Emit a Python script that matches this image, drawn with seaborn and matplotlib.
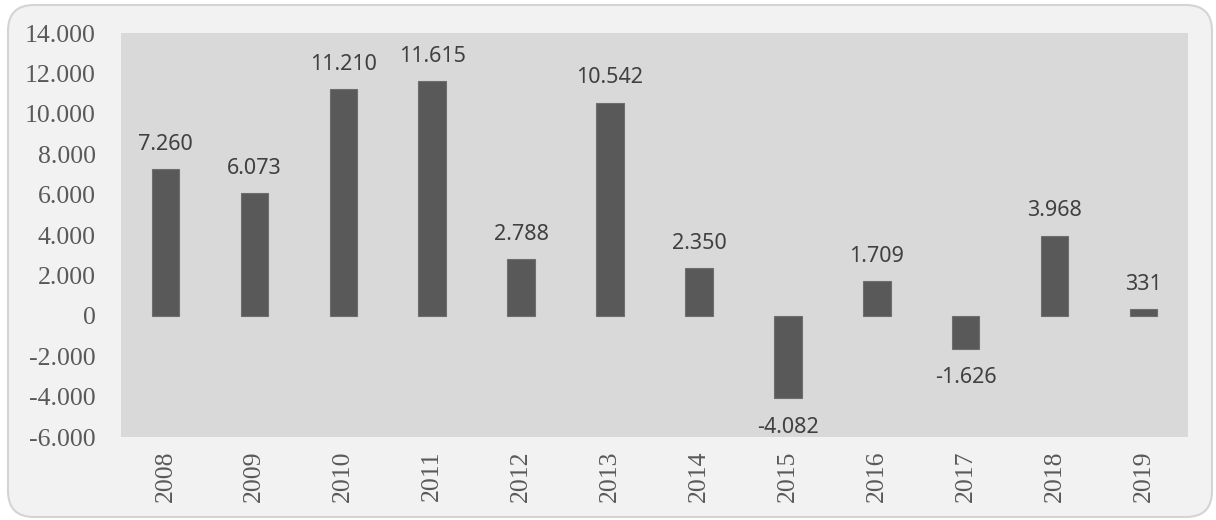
import matplotlib
matplotlib.use("Agg")
import matplotlib.pyplot as plt
from matplotlib.patches import FancyBboxPatch
from matplotlib.transforms import IdentityTransform
import seaborn as sns
import pandas as pd

years = ["2008", "2009", "2010", "2011", "2012", "2013",
         "2014", "2015", "2016", "2017", "2018", "2019"]
values = [7260, 6073, 11210, 11615, 2788, 10542,
          2350, -4082, 1709, -1626, 3968, 331]
y_ticks = [-6000, -4000, -2000, 0, 2000, 4000, 6000, 8000, 10000, 12000, 14000]


def fmt(v):
    return f"{v:,}".replace(",", ".")


df = pd.DataFrame({"year": years, "value": values})

sns.set_style("white")
fig = plt.figure(figsize=(12.16, 5.2), dpi=100, facecolor="white")

# rounded panel behind the chart
panel = FancyBboxPatch((8, 3), 1204, 512,
                       boxstyle="round,pad=0,rounding_size=26",
                       transform=IdentityTransform(),
                       facecolor="#f2f2f2", edgecolor="#d4d4d4",
                       linewidth=1.5, zorder=-5)
fig.patches.append(panel)

ax = fig.add_axes([121 / 1216, 83 / 520, 1067 / 1216, 404 / 520])
ax.set_zorder(1)
ax.set_facecolor("#d9d9d9")

sns.barplot(data=df, x="year", y="value", color="#595959", saturation=1,
            width=0.31, ax=ax, zorder=2, edgecolor="#6e6e6e", linewidth=0.8)

ax.set_ylim(-6000, 14000)
ax.set_yticks(y_ticks)
ax.set_yticklabels([fmt(t) for t in y_ticks], family="Liberation Serif",
                   fontsize=18.5, color="#595959")
ax.set_xticks(range(len(years)))
ax.set_xticklabels(years, rotation=90, family="Liberation Serif",
                   fontsize=18.5, color="#595959")
ax.tick_params(axis="both", length=0, pad=10)
ax.tick_params(axis="y", pad=18)
ax.set_xlabel("")
ax.set_ylabel("")
for s in ax.spines.values():
    s.set_visible(False)

for i, v in enumerate(values):
    off = 25 if v >= 0 else -29
    ax.annotate(fmt(v), (i, v), xytext=(0, off), textcoords="offset pixels",
                ha="center", va="center", fontsize=15.5, family="Noto Sans",
                color="#404040")

fig.savefig("out.png", dpi=100, facecolor="white")
